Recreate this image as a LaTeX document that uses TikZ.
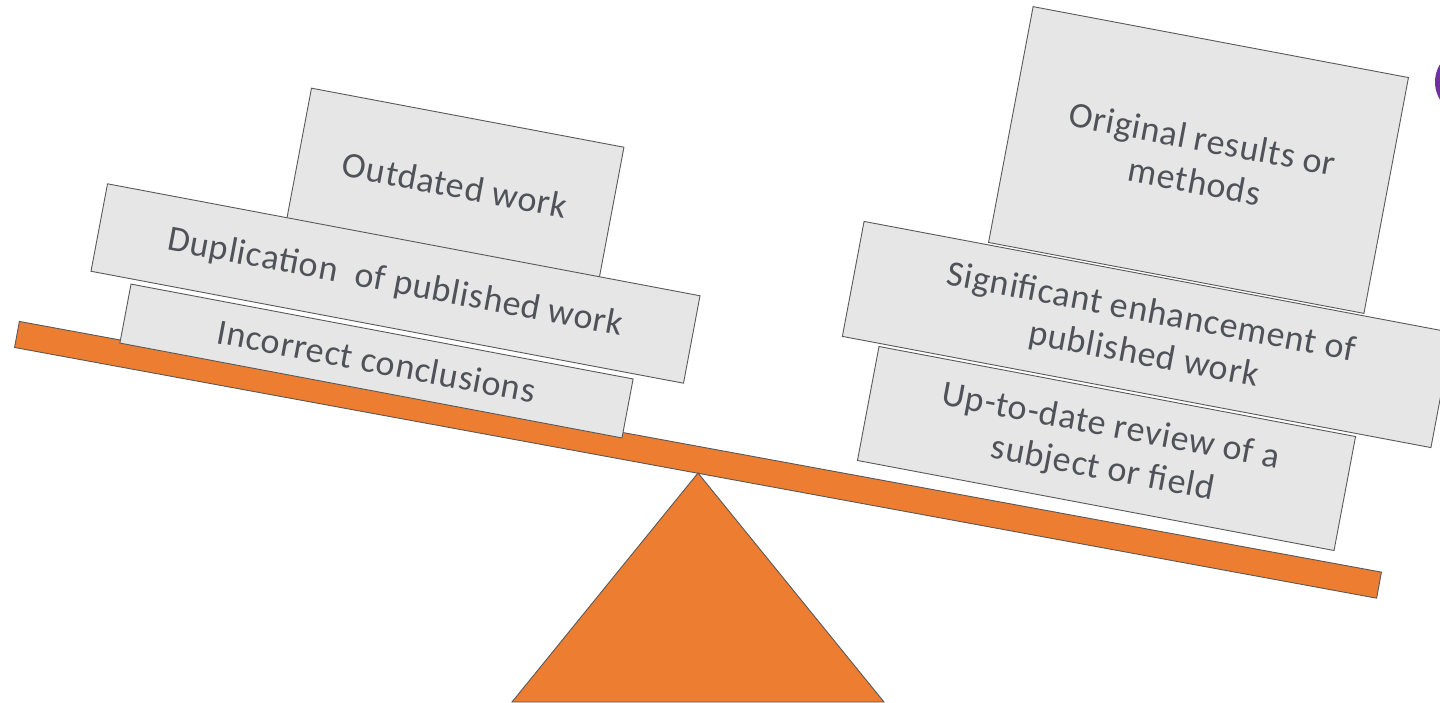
\documentclass[tikz,border=0pt]{standalone}
\usepackage{fontspec}
\setmainfont{Carlito}[LetterSpace=2]
\definecolor{boxfill}{HTML}{E7E6E6}
\definecolor{boxline}{HTML}{595959}
\definecolor{beamfill}{HTML}{ED7D31}
\definecolor{txt}{HTML}{4F5359}
\definecolor{dotpurple}{HTML}{7030A0}
\tikzset{
  slab/.style={draw=boxline, line width=0.9pt, fill=boxfill, rectangle, inner sep=0pt,
    rotate=-10.7, align=center, text=txt,
    font=\fontsize{36}{43}\selectfont},
  beamstyle/.style={draw=boxline, line width=0.9pt, fill=beamfill, rectangle, inner sep=0pt,
    rotate=-10.43, minimum width=1385pt, minimum height=26.5pt}
}
\begin{document}
\begin{tikzpicture}[x=1pt,y=-1pt]
\useasboundingbox (0,0) rectangle (1440,702);
\clip (0,0) rectangle (1440,702);
% purple dot at right edge
\fill[dotpurple] (1469,82) circle (34);
% beam
\node[beamstyle] (beam) at (698,459.8) {};
% fulcrum
\coordinate (apex) at (698,473);
\coordinate (baseL) at (512,702);
\coordinate (baseR) at (884,702);
\draw[draw=boxline, line width=0.9pt, fill=beamfill] (apex) -- (baseR) -- (baseL) -- cycle;
% left stack
\node[slab, minimum width=318pt, minimum height=137pt] (outdated) at (455,185) {Outdated work};
\node[slab, minimum width=603pt, minimum height=89pt] (dup) at (395.5,283.5) {Duplication\ \ of published work};
\node[slab, minimum width=511pt, minimum height=60pt] (incorrect) at (376.5,361) {Incorrect conclusions};
% right stack
\node[slab, minimum width=382pt, minimum height=240pt] (original) at (1198.5,160) {Original results or\\methods};
\node[slab, minimum width=599pt, minimum height=117pt] (signif) at (1147.5,334.5) {Significant enhancement of\\published work};
\node[slab, minimum width=485pt, minimum height=116pt] (review) at (1106.5,448.5) {Up-to-date review of a\\subject or field};
\end{tikzpicture}
\end{document}
